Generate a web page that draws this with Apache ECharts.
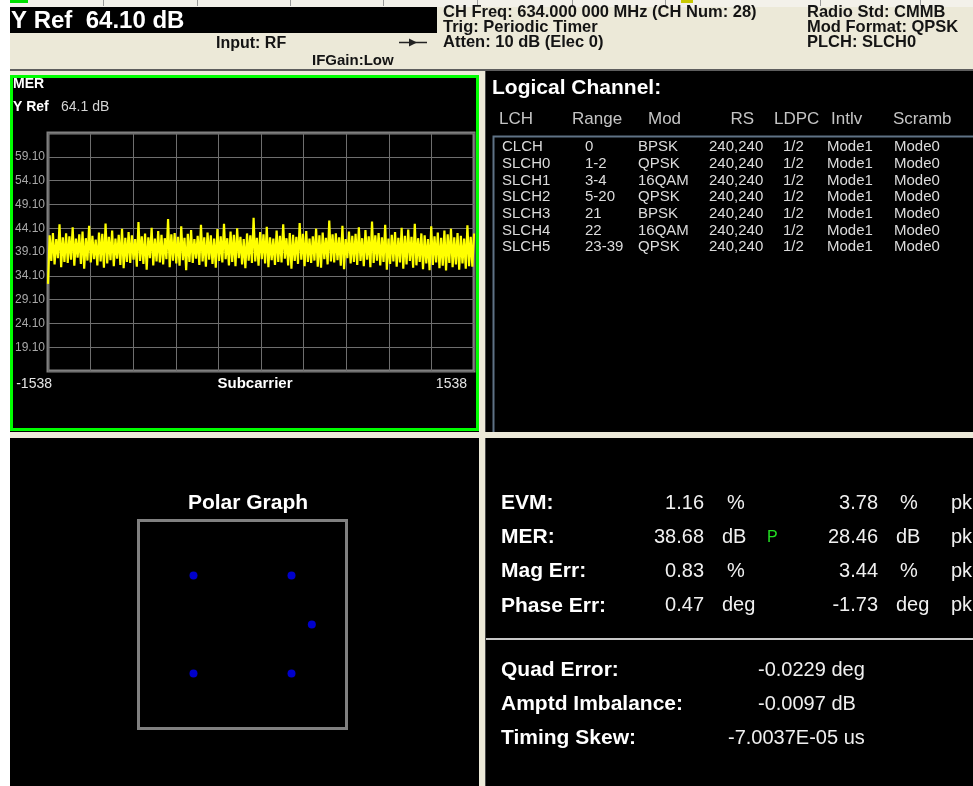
<!DOCTYPE html>
<html>
<head>
<meta charset="utf-8">
<title>CMMB Modulation Analysis</title>
<script src="https://cdn.jsdelivr.net/npm/echarts@6.0.0/dist/echarts.min.js"></script>
<style>
  html, body { margin: 0; padding: 0; background: #fff; }
  #main { width: 973px; height: 786px; }
</style>
</head>
<body>
<div id="main"></div>
<script>
// MER trace (dB): upper and lower excursions of the yellow trace, left to right
var merPeaks = [
  42.6, 43.1, 41.8, 44.9, 42.2, 43.0, 42.4, 44.3, 41.9, 42.8, 43.4, 42.0, 44.6, 42.5, 41.7, 43.2, 42.9, 45.1, 42.3, 43.6,
  41.9, 42.7, 44.0, 42.1, 43.3, 42.6, 41.8, 45.4, 42.4, 43.0, 42.2, 44.2, 41.9, 43.5, 42.7, 42.0, 46.0, 42.8, 43.1, 42.3,
  44.5, 42.1, 42.9, 43.7, 41.8, 42.5, 44.8, 42.2, 43.2, 42.6, 41.9, 43.9, 42.4, 45.0, 42.0, 43.4, 42.7, 44.1, 42.3, 41.8,
  43.0, 42.6, 46.3, 42.1, 43.3, 42.8, 44.4, 42.2, 41.9, 43.6, 42.5, 44.9, 42.0, 43.1, 42.7, 42.3, 45.2, 42.9, 43.5, 41.9,
  42.4, 44.0, 42.6, 43.2, 42.1, 45.7, 42.8, 43.0, 42.2, 44.6, 41.8, 43.4, 42.5, 42.9, 44.3, 42.0, 43.7, 42.4, 45.5, 42.6,
  43.1, 42.2, 44.8, 41.9, 42.7, 43.3, 42.1, 44.2, 42.5, 43.8, 42.3, 45.0, 42.0, 43.0, 42.6, 41.8, 44.5, 42.4, 43.2, 42.1,
  43.6, 42.8, 44.0, 42.2, 43.1, 42.5, 41.9, 44.7, 42.3, 43.0
];
var merDips = [
  32.4, 37.2, 36.5, 37.8, 35.9, 37.0, 36.8, 37.5, 36.2, 37.9, 36.6, 35.6, 37.3, 36.9, 37.6, 36.3, 37.1, 35.8, 36.7, 37.4,
  36.1, 37.7, 36.4, 35.7, 37.0, 36.8, 37.5, 36.0, 37.2, 36.6, 35.4, 37.8, 36.3, 37.1, 36.9, 36.5, 37.6, 35.9, 37.3, 36.7,
  36.2, 37.4, 35.3, 37.0, 36.8, 37.7, 36.4, 37.1, 36.0, 37.5, 36.6, 35.8, 37.2, 36.9, 37.6, 36.3, 37.0, 36.1, 37.8, 36.5,
  35.7, 37.3, 36.8, 37.1, 36.2, 37.6, 36.7, 35.9, 37.4, 36.4, 37.0, 36.9, 37.7, 36.3, 35.6, 37.2, 36.6, 37.5, 36.1, 37.0,
  36.8, 37.3, 36.0, 35.8, 37.6, 36.5, 37.1, 36.9, 37.4, 36.2, 35.5, 37.8, 36.7, 37.0, 36.4, 37.2, 36.1, 37.5, 35.9, 36.8,
  37.3, 36.3, 37.0, 35.4, 36.6, 37.1, 36.0, 36.9, 35.6, 36.5, 37.2, 35.8, 36.3, 37.0, 35.5, 36.7, 35.3, 36.4, 36.9, 35.7,
  36.2, 35.2, 36.8, 35.9, 36.5, 35.4, 36.7, 35.6, 36.1, 36.0
];
var subcarrierRange = [-1538, 1538];
var merAxis = [14.1, 64.1];   // Y Ref 64.1 dB, 5 dB / div

// constellation (I / Q)
var constI = [-0.707, 0.707, 1.0, -0.707, 0.707];
var constQ = [0.707, 0.707, 0.0, -0.707, -0.707];

// logical channel table
var lchHead = ['LCH', 'Range', 'Mod', 'RS', 'LDPC', 'Intlv', 'Scramb'];
var lchName = ['CLCH', 'SLCH0', 'SLCH1', 'SLCH2', 'SLCH3', 'SLCH4', 'SLCH5'];
var lchRange = ['0', '1-2', '3-4', '5-20', '21', '22', '23-39'];
var lchMod = ['BPSK', 'QPSK', '16QAM', 'QPSK', 'BPSK', '16QAM', 'QPSK'];
var lchRS = ['240,240', '240,240', '240,240', '240,240', '240,240', '240,240', '240,240'];
var lchLdpc = ['1/2', '1/2', '1/2', '1/2', '1/2', '1/2', '1/2'];
var lchIntlv = ['Mode1', 'Mode1', 'Mode1', 'Mode1', 'Mode1', 'Mode1', 'Mode1'];
var lchScramb = ['Mode0', 'Mode0', 'Mode0', 'Mode0', 'Mode0', 'Mode0', 'Mode0'];

// results
var metricName = ['EVM:', 'MER:', 'Mag Err:', 'Phase Err:'];
var metricAvg = [1.16, 38.68, 0.83, 0.47];
var metricUnit = ['%', 'dB', '%', 'deg'];
var metricFlag = ['', 'P', '', ''];
var metricPk = [3.78, 28.46, 3.44, -1.73];
var impairName = ['Quad Error:', 'Amptd Imbalance:', 'Timing Skew:'];
var impairValue = ['-0.0229', '-0.0097', '-7.0037E-05'];
var impairUnit = ['deg', 'dB', 'us'];

var headerLeft = ['CH Freq: 634.000 000 MHz (CH Num: 28)', 'Trig: Periodic Timer', 'Atten: 10 dB (Elec 0)'];
var headerRight = ['Radio Std: CMMB', 'Mod Format: QPSK', 'PLCH: SLCH0'];

// build trace: dips and peaks alternate along the subcarrier axis
var merTrace = [];
var nPts = merPeaks.length * 2;
var step = (subcarrierRange[1] - subcarrierRange[0]) / (nPts - 1);
for (var i = 0; i < merPeaks.length; i++) {
    merTrace.push([subcarrierRange[0] + 2 * i * step, merDips[i]]);
    merTrace.push([subcarrierRange[0] + (2 * i + 1) * step, merPeaks[i]]);
}
var constPts = constI.map(function (v, k) { return [v, constQ[k]]; });

var FONT = '"Liberation Sans", Arial, sans-serif';

function txt(x, y, s, size, color, opts) {
    opts = opts || {};
    return {
        type: 'text', x: x, y: y, z: 50, silent: true,
        style: {
            text: s, fill: color,
            font: (opts.bold ? 'bold ' : '') + size + 'px ' + FONT,
            align: opts.align || 'left', verticalAlign: 'middle'
        }
    };
}
function rect(x, y, w, h, fill, z) {
    return { type: 'rect', z: z || 10, silent: true, shape: { x: x, y: y, width: w, height: h }, style: { fill: fill } };
}
function line(x1, y1, x2, y2, color, w, z) {
    return { type: 'line', z: z || 12, silent: true, shape: { x1: x1, y1: y1, x2: x2, y2: y2 }, style: { stroke: color, lineWidth: w } };
}

var els = [];
// frame / header
els.push(rect(0, 0, 10, 786, '#ffffff'));
els.push(rect(10, 0, 963, 69, '#ece9d8'));
els.push(rect(10, 0, 963, 7, '#f3f1ea'));
[103, 197, 290, 383, 477, 572, 665, 820, 920].forEach(function (x) {
    els.push(line(x + 0.5, 0, x + 0.5, 6, '#9a9a9a', 1));
});
els.push(rect(10, 0, 18, 3, '#00e000', 13));
els.push(rect(681, 0, 12, 3, '#c8c800', 13));
els.push(rect(10, 7, 427, 26, '#000000', 11));
els.push(rect(10, 69, 963, 2, '#5e5e5e', 11));
els.push(rect(10, 71, 469, 4, '#ece9d8'));
els.push(rect(479, 71, 6, 715, '#ece9d8', 14));
els.push(rect(10, 432, 963, 6, '#ece9d8', 14));
els.push(line(485.5, 71, 485.5, 432, '#4a4a4a', 1));
els.push(line(485.5, 438, 485.5, 786, '#4a4a4a', 1));

els.push(txt(11, 21, 'Y Ref  64.10 dB', 24, '#ffffff', { bold: true }));
els.push(txt(216, 44, 'Input: RF', 16, '#141414', { bold: true }));
els.push(txt(312, 61, 'IFGain:Low', 15, '#141414', { bold: true }));
els.push(line(399, 42.5, 427, 42.5, '#222', 1.5, 15));
els.push({ type: 'polygon', z: 15, silent: true, shape: { points: [[409, 38.5], [417, 42.5], [409, 46.5]] }, style: { fill: '#222' } });
headerLeft.forEach(function (s, k) { els.push(txt(443, 12 + 15 * k, s, 16.5, '#141414', { bold: true })); });
headerRight.forEach(function (s, k) { els.push(txt(807, 12 + 15 * k, s, 16.5, '#141414', { bold: true })); });

// MER panel
els.push({ type: 'rect', z: 20, silent: true, shape: { x: 11.5, y: 76.5, width: 466, height: 353 }, style: { fill: null, stroke: '#00ff00', lineWidth: 3 } });
els.push(txt(13, 84, 'MER', 14, '#ffffff', { bold: true }));
els.push(txt(13, 107, 'Y Ref', 14, '#ffffff', { bold: true }));
els.push(txt(61, 107, '64.1 dB', 14, '#d4d4d4'));
els.push(txt(52, 384, String(subcarrierRange[0]), 14, '#e4e4e4', { align: 'right' }));
els.push(txt(467, 384, String(subcarrierRange[1]), 14, '#e4e4e4', { align: 'right' }));
els.push(txt(255, 384, 'Subcarrier', 15, '#ffffff', { bold: true, align: 'center' }));

// logical channel
els.push(txt(492, 88, 'Logical Channel:', 21, '#ffffff', { bold: true }));
var headX = [499, 572, 648, 754, 774, 831, 893];
lchHead.forEach(function (s, k) {
    els.push(txt(headX[k], 119, s, 17, '#c4c4c4', { align: k === 3 ? 'right' : 'left' }));
});
els.push({ type: 'polyline', z: 12, silent: true, shape: { points: [[493.5, 432], [493.5, 136.5], [973, 136.5]] }, style: { fill: null, stroke: '#5f7285', lineWidth: 2 } });
var colX = [502, 585, 638, 709, 783, 827, 894];
var cols = [lchName, lchRange, lchMod, lchRS, lchLdpc, lchIntlv, lchScramb];
for (var r = 0; r < lchName.length; r++) {
    cols.forEach(function (col, k) {
        els.push(txt(colX[k], 147 + r * 16.7, col[r], 15, '#dcdcdc'));
    });
}

// polar graph
els.push(txt(248, 503, 'Polar Graph', 21, '#ffffff', { bold: true, align: 'center' }));

// results
metricName.forEach(function (s, k) {
    var y = 503 + k * 34.3;
    els.push(txt(501, y, s, 21, '#ffffff', { bold: true }));
    els.push(txt(704, y, metricAvg[k].toFixed(2), 20, '#f0f0f0', { align: 'right' }));
    els.push(txt(metricUnit[k] === '%' ? 727 : 722, y, metricUnit[k], 20, '#f0f0f0'));
    if (metricFlag[k]) els.push(txt(767, y, metricFlag[k], 16, '#22dd22'));
    els.push(txt(878, y, metricPk[k].toFixed(2), 20, '#f0f0f0', { align: 'right' }));
    els.push(txt(metricUnit[k] === '%' ? 900 : 896, y, metricUnit[k], 20, '#f0f0f0'));
    els.push(txt(951, y, 'pk', 20, '#f0f0f0'));
});
els.push(rect(486, 638, 487, 2, '#c8c8c8', 13));
var impairX = [758, 758, 728];
impairName.forEach(function (s, k) {
    var y = 670 + k * 34;
    els.push(txt(501, y, s, 21, '#ffffff', { bold: true }));
    els.push(txt(impairX[k], y, impairValue[k] + ' ' + impairUnit[k], 20, '#f0f0f0'));
});

var chart = echarts.init(document.getElementById('main'), null, { renderer: 'canvas' });
chart.setOption({
    animation: false,
    backgroundColor: '#000000',
    grid: [
        { left: 48, top: 133, width: 426, height: 238, show: true, borderColor: '#808080', borderWidth: 3, backgroundColor: 'transparent', outerBoundsMode: 'none' },
        { left: 138.5, top: 520.5, width: 208, height: 208, show: true, borderColor: '#808080', borderWidth: 3, backgroundColor: 'transparent', outerBoundsMode: 'none' }
    ],
    xAxis: [
        {
            gridIndex: 0, type: 'value', min: subcarrierRange[0], max: subcarrierRange[1], interval: 307.6,
            axisLine: { show: false }, axisTick: { show: false }, axisLabel: { show: false },
            splitLine: { show: true, lineStyle: { color: '#6e6e6e', width: 1 } }
        },
        {
            gridIndex: 1, type: 'value', min: -1.5, max: 1.5,
            axisLine: { show: false }, axisTick: { show: false }, axisLabel: { show: false }, splitLine: { show: false }
        }
    ],
    yAxis: [
        {
            gridIndex: 0, type: 'value', min: merAxis[0], max: merAxis[1], interval: 5,
            axisLine: { show: false }, axisTick: { show: false },
            axisLabel: {
                show: true, showMinLabel: false, showMaxLabel: false, margin: 3,
                color: '#a8a8a8', fontSize: 12, fontFamily: 'Liberation Sans',
                formatter: function (v) { return v.toFixed(2); }
            },
            splitLine: { show: true, lineStyle: { color: '#6e6e6e', width: 1 } }
        },
        {
            gridIndex: 1, type: 'value', min: -1.5, max: 1.5,
            axisLine: { show: false }, axisTick: { show: false }, axisLabel: { show: false }, splitLine: { show: false }
        }
    ],
    series: [
        {
            name: 'MER', type: 'line', xAxisIndex: 0, yAxisIndex: 0,
            data: merTrace, showSymbol: false, symbol: 'none', sampling: null,
            lineStyle: { color: '#ffff00', width: 2.2 }, clip: true, silent: true
        },
        {
            name: 'Constellation', type: 'scatter', xAxisIndex: 1, yAxisIndex: 1,
            data: constPts, symbolSize: 8, itemStyle: { color: '#0000ff' }, silent: true
        }
    ],
    graphic: { elements: els }
});
</script>
</body>
</html>
